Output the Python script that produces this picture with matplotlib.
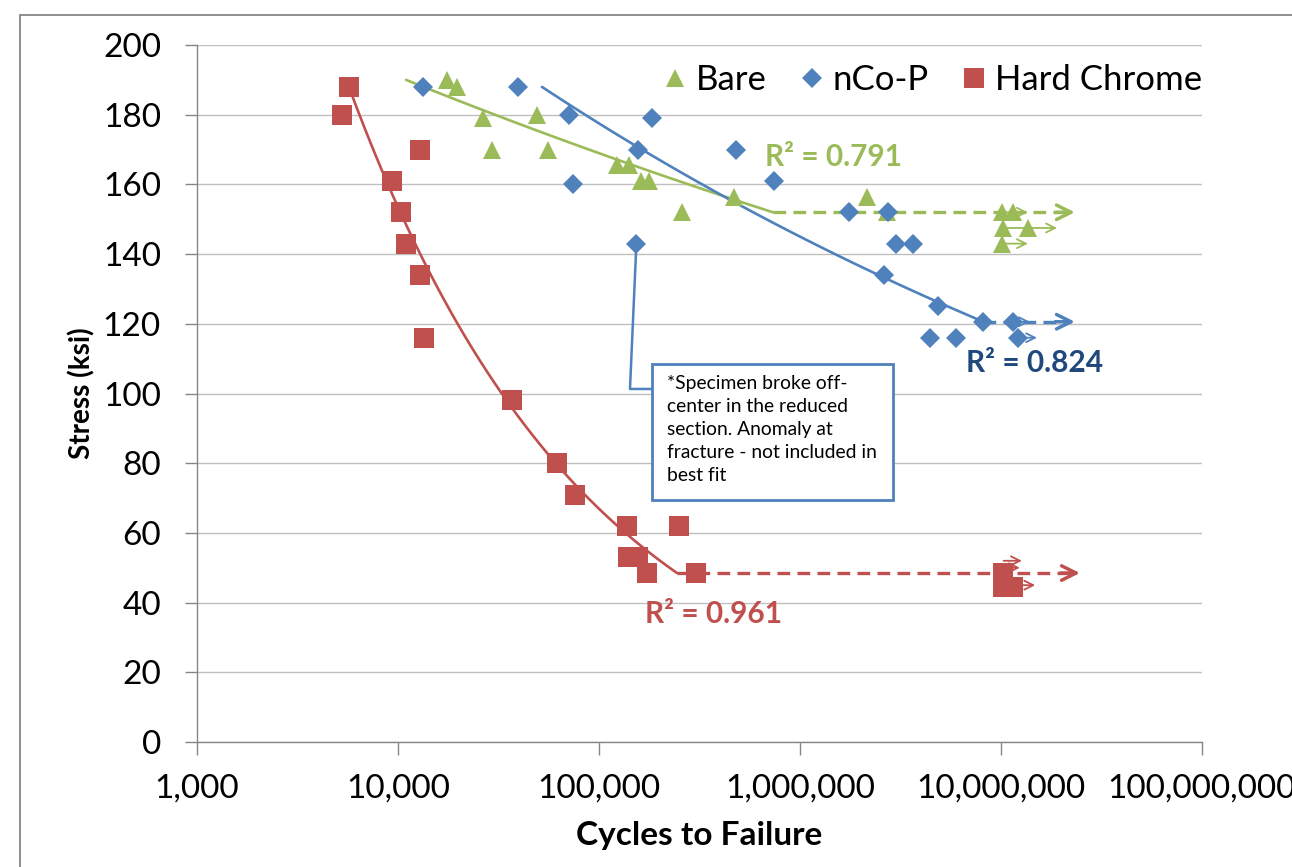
import numpy as np
import matplotlib
matplotlib.use("Agg")
import matplotlib.pyplot as plt
from matplotlib.patches import Rectangle
from matplotlib.ticker import FixedLocator, FuncFormatter, NullLocator

plt.rcParams['font.family'] = ['Lato', 'DejaVu Sans']

# ---------------- data ----------------
# Bare (green triangles)
bare_x = [17460, 19590, 26390, 48940, 29230, 55560, 122400, 141600, 161900, 178000,
          258600, 471300, 2160000, 2700000]
bare_y = [190, 188, 179, 180, 170, 170, 165.5, 165.5, 161, 161, 152, 156.5, 156.5, 152]
bare_run_x = [10070000, 11500000, 10200000, 13700000, 10100000]
bare_run_y = [152, 152, 147.5, 147.5, 143]
bare_arrow_y = [152, 147.5, 143]
bare_arrow_x0 = [10300000, 10400000, 10300000]
bare_arrow_x1 = [13600000, 19000000, 13600000]

# nCo-P (blue diamonds)
nco_x = [13360, 39370, 70950, 184500, 156000, 478600, 74500, 745000,
         1760000, 2730000, 2990000, 3660000, 2620000, 4840000, 4430000, 5960000, 8170000]
nco_y = [188, 188, 180, 179, 170, 170, 160, 161,
         152, 152, 143, 143, 134, 125, 116, 116, 120.6]
nco_anom_x = [152000]
nco_anom_y = [143]
nco_run_x = [11500000, 12200000]
nco_run_y = [120.6, 116]
nco_arrow_x1 = [13900000, 15100000]

# Hard Chrome (red squares)
hc_x = [5260, 5700, 9330, 10350, 10960, 12860, 12860, 13460, 36900, 61800, 76000,
        137700, 250000, 139300, 156000, 173300, 304000]
hc_y = [180, 188, 161, 152, 143, 170, 134, 116, 98, 80, 71,
        62, 62, 53, 53, 48.5, 48.5]
hc_run_x = [10200000, 10200000, 11500000]
hc_run_y = [48.5, 44.5, 44.5]
hc_arrow_y = [52, 50, 45]
hc_arrow_x0 = [10300000, 10300000, 10600000]
hc_arrow_x1 = [12700000, 12400000, 14800000]

# power-law trendlines  y = a * x^b  (over the fitted range)
bare_fit = (311.3, -0.05308, 10960, 734000)
nco_fit = (487.7, -0.08779, 52000, 8170000)
hc_fit = (4247.0, -0.3605, 5700, 244500)
endurance_end = {"bare": 23300000, "nco": 23300000, "hc": 24700000}

r2_labels = ["R\u00b2 = 0.791", "R\u00b2 = 0.824", "R\u00b2 = 0.961"]

x_ticks = [1e3, 1e4, 1e5, 1e6, 1e7, 1e8]
y_ticks = list(range(0, 201, 20))

GREEN = '#9BBB59'
BLUE = '#4F81BD'
RED = '#C0504D'
DBLUE = '#1F497D'

# ---------------- figure ----------------
fig = plt.figure(figsize=(12.92, 8.67), dpi=100)
ax = fig.add_axes([197/1292, 1-742/867, 1005/1292, 697/867])
ax.set_xscale('log')
ax.set_xlim(1e3, 1e8)
ax.set_ylim(0, 200)

ax.xaxis.set_major_locator(FixedLocator(x_ticks))
ax.xaxis.set_minor_locator(NullLocator())
ax.xaxis.set_major_formatter(FuncFormatter(lambda v, p: f"{int(round(v)):,}"))
ax.set_yticks(y_ticks)

for s in ['top', 'right']:
    ax.spines[s].set_visible(False)
for s in ['left', 'bottom']:
    ax.spines[s].set_color('#868686')
    ax.spines[s].set_linewidth(1.0)
ax.tick_params(axis='both', which='major', length=9, width=1.0, color='#868686',
               labelsize=24)
ax.tick_params(axis='y', pad=17)
ax.tick_params(axis='x', pad=14)
ax.grid(axis='y', color='#BFBFBF', linewidth=1.0)
ax.set_axisbelow(True)

def powerline(fit, color):
    a, b, x0, x1 = fit
    xs = np.logspace(np.log10(x0), np.log10(x1), 100)
    ax.plot(xs, a * xs ** b, color=color, lw=1.9, zorder=2, solid_capstyle='round')
    return x1, a * x1 ** b

def endurance(xstart, y, xend, color):
    ax.plot([xstart, xend * 0.93], [y, y], color=color, lw=2.4, ls=(0, (3.8, 2.2)), zorder=2)
    ax.annotate('', xy=(xend, y), xytext=(xend * 0.8, y),
                arrowprops=dict(arrowstyle='->', color=color, lw=2.5,
                                mutation_scale=26, shrinkA=0, shrinkB=0), zorder=3)

def small_arrows(x0s, x1s, ys, color):
    for x0, x1, y in zip(x0s, x1s, ys):
        ax.annotate('', xy=(x1, y), xytext=(x0, y),
                    arrowprops=dict(arrowstyle='->', color=color, lw=1.3,
                                    mutation_scale=16, shrinkA=0, shrinkB=0), zorder=4)

# trendlines
xe, ye = powerline(bare_fit, GREEN)
endurance(xe, ye, endurance_end["bare"], GREEN)
xe, ye = powerline(nco_fit, BLUE)
endurance(xe, ye, endurance_end["nco"], BLUE)
xe, ye = powerline(hc_fit, RED)
endurance(xe, ye, endurance_end["hc"], RED)

# markers
mk_bare = dict(marker='^', ls='none', color=GREEN, ms=12.5, mew=0)
mk_nco = dict(marker='D', ls='none', color=BLUE, ms=10.0, mew=0)
mk_hc = dict(marker='s', ls='none', color=RED, ms=13.8, mew=0)

ax.plot(bare_x, bare_y, **mk_bare, zorder=3, label='Bare')
ax.plot(bare_run_x, bare_run_y, **mk_bare, zorder=3)
ax.plot(nco_x, nco_y, **mk_nco, zorder=3, label='nCo-P')
ax.plot(nco_anom_x, nco_anom_y, **mk_nco, zorder=3)
ax.plot(nco_run_x, nco_run_y, **mk_nco, zorder=3)
ax.plot(hc_x, hc_y, **mk_hc, zorder=3, label='Hard Chrome')
ax.plot(hc_run_x, hc_run_y, **mk_hc, zorder=3)

small_arrows(bare_arrow_x0, bare_arrow_x1, bare_arrow_y, GREEN)
small_arrows(nco_run_x, nco_arrow_x1, nco_run_y, BLUE)
small_arrows(hc_arrow_x0, hc_arrow_x1, hc_arrow_y, RED)

# R^2 labels
ax.text(670000, 167.9, r2_labels[0], color=GREEN, fontsize=21.5, fontweight='bold', va='center', ha='left')
ax.text(6700000, 108.8, r2_labels[1], color=DBLUE, fontsize=21.5, fontweight='bold', va='center', ha='left')
ax.text(169500, 36.7, r2_labels[2], color=RED, fontsize=21.5, fontweight='bold', va='center', ha='left')

# annotation box + connector
ax.plot([152800, 142600, 183600], [140.5, 101.3, 101.3], color=BLUE, lw=1.8, zorder=2)
box = Rectangle((0.4527, 0.3472), 0.6925 - 0.4527, 0.5423 - 0.3472, transform=ax.transAxes,
                facecolor='white', edgecolor=BLUE, lw=2.0, zorder=5)
ax.add_patch(box)
ax.text(0.4677, 0.526,
        "*Specimen broke off-\ncenter in the reduced\nsection. Anomaly at\nfracture - not included in\nbest fit",
        transform=ax.transAxes, fontsize=13.9, va='top', ha='left', linespacing=1.42,
        color='black', zorder=6)

# legend
leg = ax.legend(loc='center right', bbox_to_anchor=(1.0, 0.95), ncol=3, frameon=False,
                fontsize=25, handlelength=0.7, handletextpad=0.25, columnspacing=0.95,
                borderaxespad=0, borderpad=0)

ax.set_xlabel('Cycles to Failure', fontsize=24, fontweight='bold', labelpad=12)
ax.set_ylabel('Stress (ksi)', fontsize=20, fontweight='bold', labelpad=5)

# chart-area border
fig.patches.append(Rectangle((20/1292, -0.1), 1.2, 1 - 15/867 + 0.1, transform=fig.transFigure,
                             fill=False, edgecolor='#868686', lw=1.3))

fig.savefig('out.png', dpi=100)
